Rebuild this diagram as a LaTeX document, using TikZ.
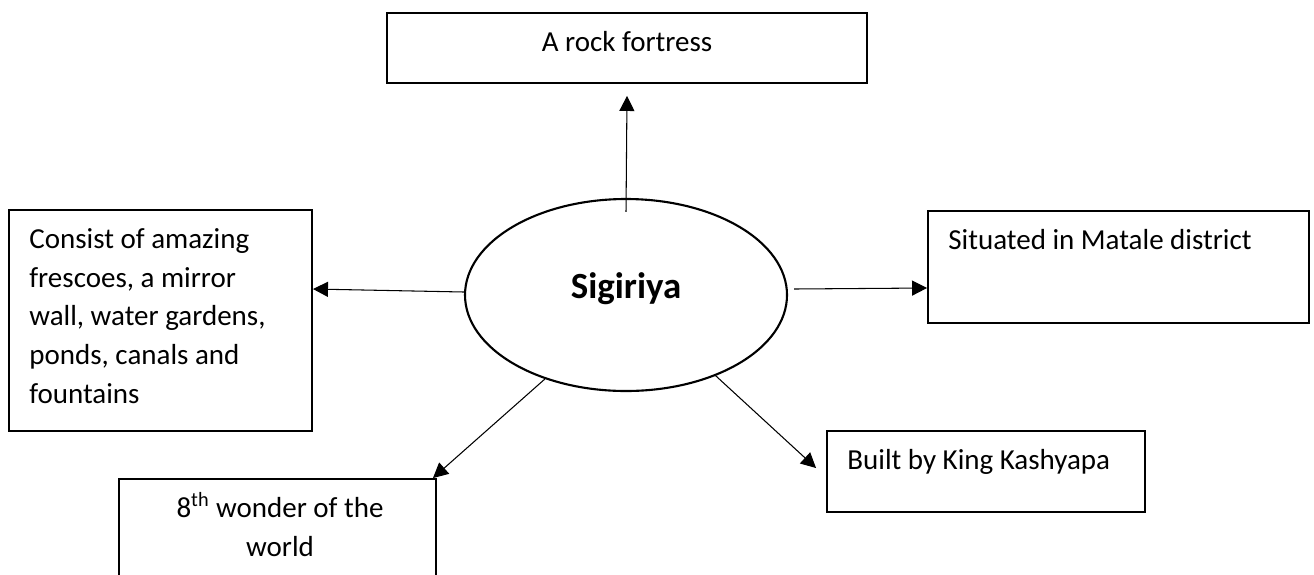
\documentclass[tikz,border=0pt]{standalone}
\usepackage{fontspec}
\setmainfont{Carlito}
\usetikzlibrary{shapes.geometric,arrows.meta}
\tikzset{
  topic/.style={
    shape = ellipse,
    draw,
    line width = 1.2pt,
    minimum width = 6.44cm,
    minimum height = 3.84cm,
    text height = 14pt,
    text depth = 9.6pt,
    font = \fontsize{21}{25}\selectfont\bfseries
  },
  factbox/.style={
    draw,
    line width = 1.1pt,
    inner sep = 0pt
  },
  facttext/.style={
    inner sep = 0pt,
    yshift = -0.24cm,
    font = \fontsize{16.5}{22}\selectfont
  },
  lefttext/.style={
    facttext,
    anchor = north west,
    xshift = 0.42cm,
    align = left
  },
  midtext/.style={
    facttext,
    anchor = north,
    align = center
  },
  link/.style={
    line width = 0.6pt,
    -{Triangle[length=0.3cm, width=0.3cm]}
  }
}
\begin{document}
\begin{tikzpicture}
    \useasboundingbox (0,0) rectangle (26.28,-11.48);
    \clip (0,0) rectangle (26.28,-11.48);
    \node[topic] (sig) at (12.52,-5.90) {Sigiriya};
    \node[factbox, minimum width=9.6cm, minimum height=1.4cm,
          label={[midtext, name=fortText]north:{\strut A rock fortress}}] (fort) at (12.54,-0.96) {};
    \node[factbox, minimum width=6.06cm, minimum height=4.42cm,
          label={[lefttext, name=frescoesText]north west:{\strut Consist of amazing\\frescoes, a mirror\\wall, water gardens,\\ponds, canals and\\fountains}}] (frescoes) at (3.21,-6.41) {};
    \node[factbox, minimum width=7.62cm, minimum height=2.24cm,
          label={[lefttext, name=mataleText]north west:{\strut Situated in Matale district}}] (matale) at (22.37,-5.34) {};
    \node[factbox, minimum width=6.36cm, minimum height=1.62cm,
          label={[lefttext, name=kashyapaText]north west:{\strut Built by King Kashyapa}}] (kashyapa) at (19.72,-9.43) {};
    \node[factbox, minimum width=6.34cm, minimum height=2.0cm,
          label={[midtext, xshift=0.05cm, name=wonderText]north:{\strut 8\textsuperscript{th} wonder of the\\world}}] (wonder) at (5.55,-10.58) {};
    % connectors out of the hub
    \draw[link] ([yshift=-0.28cm]sig.north) -- ([yshift=-0.24cm]fort.south);
    \draw[link] ([yshift=0.06cm]sig.west) -- ([yshift=0.63cm]frescoes.east);
    \draw[link] ([shift={(0.12,0.12)}]sig.east) -- ([yshift=-0.42cm]matale.west);
    \draw[link] (sig.226) -- ([xshift=-0.08cm]wonder.north east);
    \draw[link] (sig.318) -- ([shift={(-0.2,0.07)}]kashyapa.west);
\end{tikzpicture}
\end{document}
